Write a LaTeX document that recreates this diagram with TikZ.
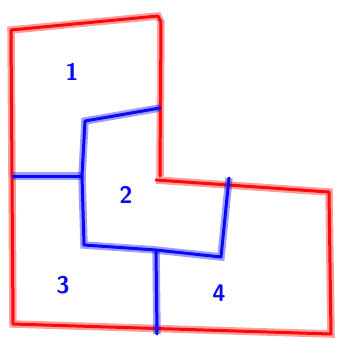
\documentclass[tikz,border=0pt]{standalone}
\usepackage{fontspec}
\usepackage{tikz}
\usetikzlibrary{positioning, calc}
\definecolor{penred}{RGB}{250, 10, 10}
\definecolor{penblue}{RGB}{10, 10, 245}

\begin{document}
\begin{tikzpicture}[
  x=1pt, y=-1pt,
  pen/.style={line width=3pt, draw=#1, line cap=round, line join=round,
              preaction={draw=#1, draw opacity=0.4, line width=7.5pt}},
  digit/.style={text=penblue, font=\sffamily\bfseries\fontsize{24}{24}\selectfont, inner sep=0pt}
]
  \useasboundingbox (0,0) rectangle (337,338);

  %% Outer outline corners
  \coordinate (tl) at (11,30);
  \coordinate (tr) at (158,16);
  \coordinate (nr) at (161,22);
  \coordinate (nk) at (160,176);
  \coordinate (sl) at (156,180);
  \coordinate (sr) at (329,192);
  \coordinate (br) at (331,334);
  \coordinate (bl) at (13,324);

  %% Inner cut corners
  \coordinate (aT) at (160,108);
  \coordinate (aC) at (85,121);
  \coordinate (aM) at (82,176);
  \coordinate (aL) at (13,176);
  \coordinate (aB) at (84,245);
  \coordinate (bM) at (156,250);
  \coordinate (bC) at (221,257);
  \coordinate (bT) at (229,178);
  \coordinate (bB) at (157,334);

  %% Red outline
  \draw[pen=penred] (nk) -- (nr) -- (tr) -- (tl) -- (bl) -- (br) -- (sr) -- (sl);

  %% Blue cuts
  \draw[pen=penblue] (aT) -- (aC) -- (aM) -- (aB) -- (bM) -- (bC) -- (bT);
  \draw[pen=penblue] (aL) -- (aM);
  \draw[pen=penblue] (bM) -- (bB);

  %% Piece numbers
  \node[digit] (n1) at (72,72) {1};
  \node[digit] (n2) at (126,195) {2};
  \node[digit] (n3) at (63,285) {3};
  \node[digit] (n4) at (219,293) {4};
\end{tikzpicture}
\end{document}
